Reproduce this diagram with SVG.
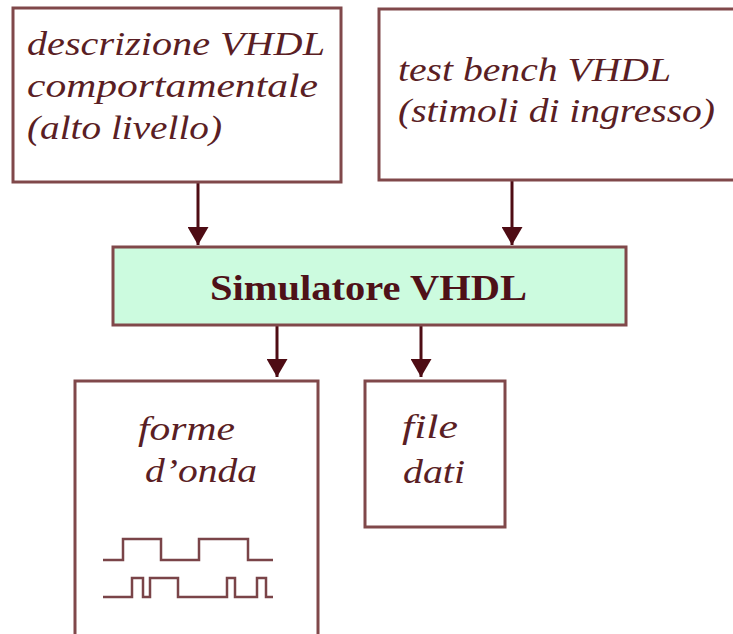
<svg xmlns="http://www.w3.org/2000/svg" width="733" height="634" viewBox="0 0 733 634">
  <defs>
    <style>
      .box { fill: #ffffff; stroke: #80484a; stroke-width: 3; }
      .sim { fill: #ccfbdf; stroke: #80484a; stroke-width: 3; }
      .lbl { font-family: "Liberation Serif", "Times New Roman", serif; font-style: italic; font-size: 34px; fill: #5a1e24; }
      .title { font-family: "Liberation Serif", "Times New Roman", serif; font-weight: bold; font-size: 36px; fill: #4e1118; }
      .wire { stroke: #4e0c14; stroke-width: 3; fill: none; }
      .wave { stroke: #7a4448; stroke-width: 2.5; fill: none; stroke-linejoin: miter; }
    </style>
    <marker id="arrow" markerWidth="6" markerHeight="7" refX="6" refY="3.5" orient="auto" markerUnits="strokeWidth">
      <path d="M0,0 L6,3.5 L0,7 Z" fill="#4e0c14"/>
    </marker>
  </defs>
  <rect width="733" height="634" fill="#ffffff"/>

  <!-- connectors -->
  <g id="connectors">
    <line class="wire" x1="198" y1="182" x2="198" y2="245" marker-end="url(#arrow)"/>
    <line class="wire" x1="512" y1="180" x2="512" y2="245" marker-end="url(#arrow)"/>
    <line class="wire" x1="277" y1="326" x2="277" y2="377" marker-end="url(#arrow)"/>
    <line class="wire" x1="421" y1="326" x2="421" y2="377" marker-end="url(#arrow)"/>
  </g>

  <!-- behavioural description -->
  <g id="node-descrizione">
    <rect class="box" x="13" y="8" width="328" height="174"/>
    <text class="lbl" x="27" y="55" textLength="298" lengthAdjust="spacingAndGlyphs">descrizione VHDL</text>
    <text class="lbl" x="27" y="97" textLength="291" lengthAdjust="spacingAndGlyphs">comportamentale</text>
    <text class="lbl" x="27" y="139" textLength="195" lengthAdjust="spacingAndGlyphs">(alto livello)</text>
  </g>

  <!-- test bench -->
  <g id="node-testbench">
    <rect class="box" x="379" y="9" width="360" height="171"/>
    <text class="lbl" x="398" y="81" textLength="273" lengthAdjust="spacingAndGlyphs">test bench VHDL</text>
    <text class="lbl" x="398" y="122" textLength="317" lengthAdjust="spacingAndGlyphs">(stimoli di ingresso)</text>
  </g>

  <!-- simulator -->
  <g id="node-simulatore">
    <rect class="sim" x="113" y="247" width="513" height="78"/>
    <text class="title" x="210" y="300" textLength="317" lengthAdjust="spacingAndGlyphs">Simulatore VHDL</text>
  </g>

  <!-- waveforms -->
  <g id="node-forme">
    <rect class="box" x="75" y="381" width="243" height="270"/>
    <text class="lbl" x="138" y="440" textLength="97" lengthAdjust="spacingAndGlyphs">forme</text>
    <text class="lbl" x="145" y="482" textLength="112" lengthAdjust="spacingAndGlyphs">d’onda</text>
    <polyline class="wave" points="103,560 123,560 123,539 161,539 161,560 199,560 199,539 248,539 248,560 273,560"/>
    <polyline class="wave" points="103,597 132,597 132,578 143,578 143,597 150,597 150,578 178,578 178,597 227,597 227,578 235,578 235,597 257,597 257,578 266,578 266,597 273,597"/>
  </g>

  <!-- data file -->
  <g id="node-file">
    <rect class="box" x="365" y="381" width="140" height="146"/>
    <text class="lbl" x="402" y="438" textLength="56" lengthAdjust="spacingAndGlyphs">file</text>
    <text class="lbl" x="403" y="483" textLength="62" lengthAdjust="spacingAndGlyphs">dati</text>
  </g>
</svg>
